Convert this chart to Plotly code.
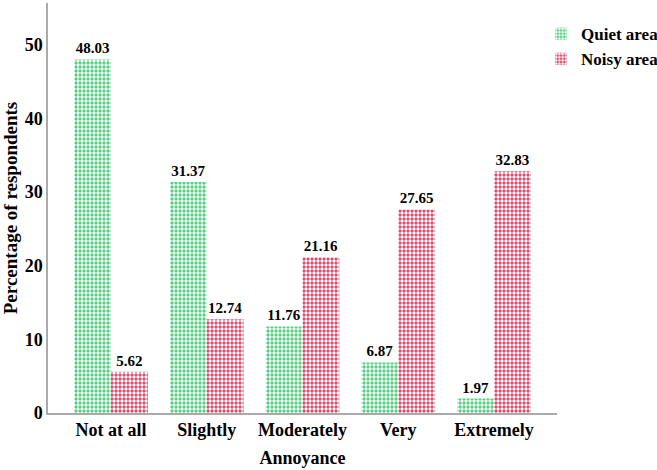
import plotly.graph_objects as go

categories = ["Not at all", "Slightly", "Moderately", "Very", "Extremely"]
quiet = [48.03, 31.37, 11.76, 6.87, 1.97]
noisy = [5.62, 12.74, 21.16, 27.65, 32.83]
quiet_labels = ["48.03", "31.37", "11.76", "6.87", "1.97"]
noisy_labels = ["5.62", "12.74", "21.16", "27.65", "32.83"]

GREEN = "#40cf74"
RED = "#e4375f"
FONT = "Times New Roman, Liberation Serif, serif"

fig = go.Figure()
fig.add_trace(go.Bar(
    x=categories, y=quiet, name="Quiet area",
    text=quiet_labels, textposition="outside",
    textfont=dict(family=FONT, size=15, color="black", weight="bold"),
    cliponaxis=False,
    marker=dict(color=GREEN, line=dict(width=0),
                pattern=dict(shape=".", fgcolor="white", bgcolor=GREEN, size=4, solidity=0.55, fillmode="replace")),
))
fig.add_trace(go.Bar(
    x=categories, y=noisy, name="Noisy area",
    text=noisy_labels, textposition="outside",
    textfont=dict(family=FONT, size=15, color="black", weight="bold"),
    cliponaxis=False,
    marker=dict(color=RED, line=dict(width=0),
                pattern=dict(shape=".", fgcolor="white", bgcolor=RED, size=4, solidity=0.55, fillmode="replace")),
))

fig.update_layout(
    width=657, height=470,
    margin=dict(l=48, r=100, t=3, b=57, pad=0, autoexpand=False),
    paper_bgcolor="white", plot_bgcolor="white",
    barmode="group", bargap=0.23, bargroupgap=0,
    font=dict(family=FONT, size=18, color="black", weight="bold"),
    showlegend=True,
    legend=dict(x=0.9686, y=0.968, xanchor="left", yanchor="top",
                font=dict(family=FONT, size=17, color="black", weight="bold"),
                itemwidth=30, tracegroupgap=0, bgcolor="rgba(0,0,0,0)"),
)
fig.update_xaxes(
    range=[-0.658, 4.658], showline=True, linecolor="#aaaaaa", linewidth=1.5,
    ticks="", tickfont=dict(family=FONT, size=18, color="black", weight="bold"),
    title=dict(text="Annoyance", font=dict(family=FONT, size=18, weight="bold"), standoff=12),
    showgrid=False, zeroline=False, automargin=False,
)
fig.update_yaxes(
    range=[0, 55.7], showline=True, linecolor="#aaaaaa", linewidth=1.5,
    tickvals=[0, 10, 20, 30, 40, 50], ticks="",
    tickfont=dict(family=FONT, size=18, color="black", weight="bold"),
    title=dict(text="Percentage of respondents", font=dict(family=FONT, size=19, weight="bold"), standoff=8),
    showgrid=False, zeroline=False, automargin=False,
)

fig.write_html("out.html", config={"displayModeBar": False},
               post_script="document.body.style.margin='0px';document.body.style.padding='0px';")
